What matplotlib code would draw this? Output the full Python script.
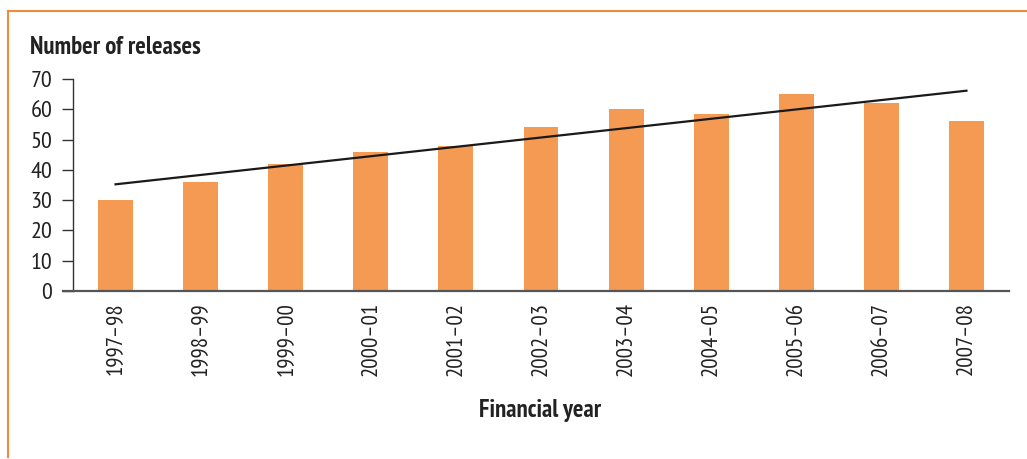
import numpy as np
import matplotlib
matplotlib.use("Agg")
import matplotlib.pyplot as plt
from matplotlib.lines import Line2D

years = ["1997–98", "1998–99", "1999–00", "2000–01", "2001–02", "2002–03",
         "2003–04", "2004–05", "2005–06", "2006–07", "2007–08"]
releases = [30, 36, 42, 46, 48, 54, 60, 58.5, 65, 62, 56]
yticks = [0, 10, 20, 30, 40, 50, 60, 70]

plt.rcParams["font.family"] = ["PT Sans Narrow", "Roboto Condensed", "DejaVu Sans"]

ORANGE = "#F59A53"
FRAME = "#F08A3C"

fig = plt.figure(figsize=(10.27, 4.59), dpi=100)
ax = fig.add_axes([73 / 1027, 1 - 291 / 459, 936 / 1027, 212 / 459])

x = np.arange(len(years))
ax.bar(x, releases, width=0.41, color=ORANGE, zorder=2)

# linear trend line
slope, intercept = np.polyfit(x, releases, 1)
ax.plot(x, slope * x + intercept, color="#1a1a1a", lw=1.6, zorder=3)

ax.set_xlim(-0.5, len(years) - 0.5)
ax.set_ylim(0, 70)
ax.set_yticks(yticks)
ax.set_yticklabels([str(t) for t in yticks], fontsize=17.5, color="#222222")
ax.set_xticks(x)
ax.set_xticklabels(years, rotation=90, fontsize=16.5, color="#222222")
ax.tick_params(axis="x", length=0, pad=8)
ax.tick_params(axis="y", length=8, width=1, color="#333333", pad=7)

for s in ["top", "right"]:
    ax.spines[s].set_visible(False)
ax.spines["left"].set_color("#333333")
ax.spines["left"].set_linewidth(1.0)
ax.spines["bottom"].set_visible(False)
# x axis line runs a bit past the y axis
ax.axhline(0, xmin=-10 / 936, xmax=1, color="#555555", lw=1.6, clip_on=False, zorder=4)

fig.text(30 / 1027, 1 - 48 / 459, "Number of releases", fontsize=17.8,
         fontweight="bold", ha="left", va="center", color="#222222")
fig.text(540 / 1027, 1 - 411 / 459, "Financial year", fontsize=17.8,
         fontweight="bold", ha="center", va="center", color="#222222")

# orange frame on top and left
fig.add_artist(Line2D([8 / 1027, 1], [1 - 11 / 459, 1 - 11 / 459],
                      transform=fig.transFigure, color=FRAME, lw=1.5))
fig.add_artist(Line2D([8 / 1027, 8 / 1027], [1 - 11 / 459, 0.005],
                      transform=fig.transFigure, color=FRAME, lw=1.5))

fig.savefig("out.png", dpi=100)
